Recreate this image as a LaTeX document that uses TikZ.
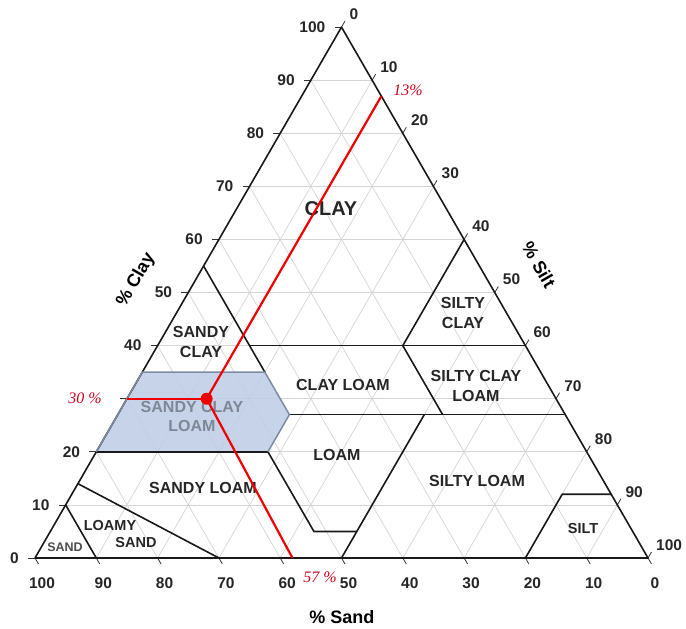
\documentclass[tikz,border=0pt]{standalone}
\usepackage{fontspec}
\setmainfont{Liberation Sans}
\newfontfamily\redserif{Liberation Serif}
\definecolor{sclfill}{HTML}{BFCDE6}
\definecolor{sclline}{HTML}{7C8BA3}
\definecolor{scltext}{HTML}{7D8796}
\definecolor{gridc}{HTML}{D4D4D4}
\definecolor{redc}{HTML}{EE0000}
\definecolor{redt}{HTML}{D0021B}
\begin{document}
\begin{tikzpicture}[x={(6.13pt,0pt)}, y={(3.065pt,5.3087pt)},
  gridline/.style={draw=gridc, line width=0.7pt},
  bound/.style={draw=black!90, line width=1.6pt, line join=round},
  sclborder/.style={draw=sclline, line width=1.5pt, line join=round},
  tickline/.style={draw=black!80, line width=0.8pt},
  num/.style={font=\fontsize{15.5}{16}\selectfont\bfseries, text=black!85, inner sep=0pt},
  reg/.style={font=\fontsize{16}{20}\selectfont\bfseries, text=black!85, align=center, inner sep=0pt},
  axislab/.style={font=\fontsize{18}{20}\selectfont\bfseries, inner sep=0pt},
  redline/.style={draw=redc, line width=2.2pt},
  redlab/.style={font=\fontsize{16}{16}\redserif\itshape, text=redt, inner sep=0pt}]
\useasboundingbox (-35pt,-71pt) rectangle (651pt,558pt);
% grid
\foreach \i in {10,20,...,90} {
  \draw[gridline] (0,\i) -- ({100-\i},\i);
  \draw[gridline] (\i,0) -- (\i,{100-\i});
  \draw[gridline] (\i,0) -- (0,\i);
}
% sandy clay loam fill
\fill[sclfill, opacity=0.88] (0,20) -- (28,20) -- (28,27) -- (20,35) -- (0,35) -- cycle;
% coordinates
\coordinate (A) at (0,0);
\coordinate (B) at (100,0);
\coordinate (C) at (0,100);
% ticks
\foreach \i in {0,10,...,100} {
  \draw[tickline] (0,\i) -- ++(-7pt,0pt);
  \draw[tickline] (\i,0) -- ++(3.5pt,-6pt);
  \draw[tickline] (\i,{100-\i}) -- ++(3.5pt,6pt);
}
% outline and boundaries
\draw[bound] (A) -- (B) -- (C) -- cycle;
\draw[bound] (0,10) -- (10,0);
\draw[bound] (0,14) -- (30,0);
\draw[bound] (0,20) -- (28,20);
\draw[bound] (0,55) -- (20,35);
\draw[bound] (15,40) -- (60,40);
\draw[bound] (40,60) -- (40,40) -- (53,27);
\draw[bound] (28,27) -- (73,27);
\draw[bound] (28,20) -- (43,5) -- (50,5);
\draw[bound] (50,27) -- (50,0);
\draw[bound] (80,0) -- (80,12) -- (88,12);
\draw[sclborder] (0,20) -- (0,35) -- (20,35) -- (28,27) -- (28,20);
% numbers
\foreach \i in {0,10,20,40,50,60,70,80,90,100} {
  \node[num, anchor=east] (L\i) at ([xshift=-16pt]0,\i) {\i};
}
\foreach \i in {0,10,...,100} {
  \pgfmathtruncatemacro{\s}{100-\i}
  \node[num] (B\i) at ([xshift=7pt,yshift=-25pt]\i,0) {\s};
  \node[num, anchor=west] (R\i) at ([xshift=8pt,yshift=13pt]\i,{100-\i}) {\i};
}
% region labels
\node[reg, font=\fontsize{20}{22}\selectfont\bfseries] (clay) at (296pt,349pt) {CLAY};
\node[reg] (sandyclay) at (166pt,216pt) {SANDY\\CLAY};
\node[reg, text=scltext, font=\fontsize{16}{19}\selectfont\bfseries] (scl) at (157pt,141.5pt) {SANDY CLAY\\LOAM};
\node[reg] (clayloam) at (308pt,173pt) {CLAY LOAM};
\node[reg] (loam) at (302pt,103pt) {LOAM};
\node[reg] (siltyclay) at (428pt,245pt) {SILTY\\CLAY};
\node[reg] (scloam) at (441pt,172pt) {SILTY CLAY\\LOAM};
\node[reg] (siltyloam) at (442pt,77pt) {SILTY LOAM};
\node[reg, font=\fontsize{14.5}{16}\selectfont\bfseries] (silt) at (548pt,29pt) {SILT};
\node[reg] (sandyloam) at (168pt,70pt) {SANDY LOAM};
\node[reg, font=\fontsize{14.5}{16}\selectfont\bfseries] (loamy) at (75pt,32pt) {LOAMY};
\node[reg, font=\fontsize{14.5}{16}\selectfont\bfseries] (lsand) at (101pt,15pt) {SAND};
\node[reg, font=\fontsize{12.5}{14}\selectfont\bfseries, text=black!70] (sand) at (30pt,11pt) {SAND};
% axis labels
\node[axislab, rotate=60] (pclay) at (101pt,278pt) {\% Clay};
\node[axislab, rotate=-60] (psilt) at (504pt,293pt) {\% Silt};
\node[axislab] (psand) at (307pt,-59pt) {\% Sand};
% red construction
\coordinate (P) at (13,30);
\coordinate (Pl) at (0,30);
\coordinate (Pb) at (42,0);
\coordinate (Pr) at (13,87);
\draw[redline] (Pl) -- (P);
\draw[redline, line join=round] (Pb) -- (P) -- (Pr);
\fill[redc] (P) circle (6pt);
\node[redlab] (t13) at (373pt,468pt) {13\%};
\node[redlab] (t30) at (50pt,160pt) {30 \%};
\node[redlab] (t57) at (285pt,-19pt) {57 \%};
\end{tikzpicture}
\end{document}
